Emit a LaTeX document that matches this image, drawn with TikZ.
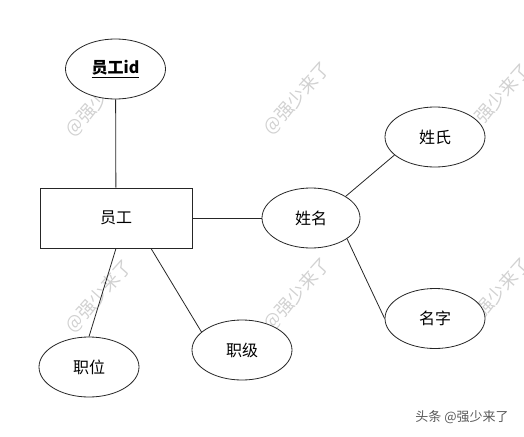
\documentclass[tikz,border=0pt]{standalone}
\usepackage{fontspec}
\setmainfont{Noto Sans CJK SC}
\usetikzlibrary{shapes.geometric}
\begin{document}
\begin{tikzpicture}[x=1pt,y=-1pt,
  ent/.style={draw=black!85, line width=0.8pt, ellipse, fill=white, minimum width=100pt, minimum height=60pt, inner sep=0pt, font=\fontsize{16}{18}\selectfont},
  box/.style={draw=black!85, line width=0.8pt, rectangle, fill=white, minimum width=152pt, minimum height=60pt, inner sep=0pt, font=\fontsize{16}{18}\selectfont},
  wm/.style={text=black!18, rotate=48, inner sep=0pt, font=\fontsize{18}{20}\selectfont},
  link/.style={draw=black!85, line width=0.8pt}]
\useasboundingbox (0,0) rectangle (524,436);
% watermarks
\node[wm] (w1) at (99,100) {@强少来了};
\node[wm] (w2) at (297,98) {@强少来了};
\node[wm] (w3) at (497,100) {@强少来了};
\node[wm] (w4) at (99,296) {@强少来了};
\node[wm] (w5) at (297,294) {@强少来了};
\node[wm] (w6) at (497,294) {@强少来了};
% nodes
\node[ent, font=\fontsize{16}{18}\selectfont\bfseries] (id) at (115.5,69) {\underline{员工id}};
\node[box] (emp) at (116,218) {员工};
\node[ent, minimum width=98pt] (name) at (311,218) {姓名};
\node[ent] (surname) at (435,137) {姓氏};
\node[ent] (given) at (435,318.5) {名字};
\node[ent] (pos) at (89,367) {职位};
\node[ent] (level) at (242,350) {职级};
% links
\draw[link] (id) -- (emp);
\draw[link] (emp.east) -- (name.west);
\draw[link] (name.32) -- (surname.204);
\draw[link] (name.-30) -- (given.west);
\draw[link] (emp.south) -- (pos.north);
\draw[link] ([xshift=35pt]emp.south) -- (level.156);
\node[text=black!65, inner sep=0pt, font=\fontsize{13}{15}\selectfont] (src) at (462,417) {头条 @强少来了};
\end{tikzpicture}
\end{document}
